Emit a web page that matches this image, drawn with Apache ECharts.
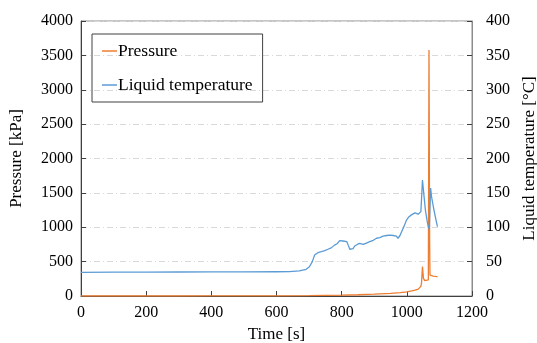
<!DOCTYPE html>
<html>
<head>
<meta charset="utf-8">
<script src="https://cdn.jsdelivr.net/npm/echarts@6/dist/echarts.min.js"></script>
<style>html,body{margin:0;padding:0;background:#fff;overflow:hidden;width:100%;height:100%}#c{position:absolute;left:0;top:0;width:537px;height:343px}</style>
</head>
<body>
<div id="c"></div>
<script>
var tempTime = [0,100,200,300,400,500,600,640,670,691,701,710,717,727,738,748,758,768,778,786,794,799,804,809,816,820,825,830,835,840,848,855,866,876,886,897,907,917,927,938,948,958,968,973,979,984,992,999,1006,1014,1020,1025,1030,1035,1040,1043,1045,1048,1052,1057,1062,1066,1069,1073,1076,1082,1088,1094];
var tempVal = [34.5,34.6,34.8,34.9,35.0,35.1,35.3,35.4,36.4,38.8,42.6,50,59.6,63,64.5,66,68,70,74,76,80.5,79,80,80.5,79,74,68,66,69,72.7,75,76.6,75,77,79,81,84,85,87,88,88.7,88,87,84,88,93.5,102,110.5,115,118,120,121,120,119,120,122.7,140,168.7,149,125,110,100,97,157,144,128,114,101];

var presTime = [0,100,200,300,400,500,600,700,750,800,850,900,950,980,1000,1015,1025,1035,1040,1043,1045,1048,1051,1055,1060,1066,1068,1070,1071,1076,1081,1088,1094];
var presVal = [0,0,0,0,1,2,3,5,8,12,18,26,38,48,60,75,87,100,112,140,185,427,257,223,228,233,3578,800,305,298,290,284,280];

function pairs(t, v) { return t.map(function (x, i) { return [x, v[i]]; }); }

var xTicks = [0, 1200, 200];
var font = 'Liberation Serif';
var dashDot = [6, 3, 1, 3];
var plain = function (v) { return String(v); };

var chart = echarts.init(document.getElementById('c'), null, { width: 537, height: 343 });
chart.setOption({
  animation: false,
  textStyle: { fontFamily: font, color: '#000' },
  grid: { left: 81, right: 65, top: 21, bottom: 47, show: true, borderColor: '#8c8c8c', borderWidth: 1, containLabel: false, outerBoundsMode: 'none' },
  legend: {
    orient: 'vertical', left: 92, top: 34,
    padding: [8, 10, 8, 10], itemGap: 16,
    borderColor: '#404040', borderWidth: 1,
    itemWidth: 15, itemHeight: 1.5,
    icon: 'rect',
    textStyle: { fontFamily: font, fontSize: 17.5, color: '#000', padding: [0, 0, 0, -4] },
    data: ['Pressure', 'Liquid temperature']
  },
  xAxis: {
    type: 'value', min: xTicks[0], max: xTicks[1], interval: xTicks[2],
    name: 'Time [s]', nameLocation: 'middle', nameGap: 29,
    nameTextStyle: { fontFamily: font, fontSize: 17, color: '#000' },
    axisLine: { lineStyle: { color: '#404040', width: 1 } },
    axisTick: { inside: true, length: 5, lineStyle: { color: '#404040' } },
    axisLabel: { fontFamily: font, fontSize: 16, color: '#000', margin: 9, formatter: plain },
    splitLine: { show: false }
  },
  yAxis: [{
    type: 'value', min: 0, max: 4000, interval: 500,
    name: 'Pressure [kPa]', nameLocation: 'middle', nameGap: 56, nameRotate: 90,
    nameTextStyle: { fontFamily: font, fontSize: 17, color: '#000' },
    axisLine: { show: true, lineStyle: { color: '#404040', width: 1 } },
    axisTick: { show: true, inside: true, length: 5, lineStyle: { color: '#404040' } },
    axisLabel: { fontFamily: font, fontSize: 16, color: '#000', margin: 8, formatter: plain },
    splitLine: { show: true, lineStyle: { color: '#d9d9d9', type: dashDot, width: 1 } }
  }, {
    type: 'value', min: 0, max: 400, interval: 50, position: 'right',
    name: 'Liquid temperature [\u00B0C]', nameLocation: 'middle', nameGap: 48, nameRotate: 90,
    nameTextStyle: { fontFamily: font, fontSize: 17, color: '#000' },
    axisLine: { show: true, lineStyle: { color: '#8c8c8c', width: 1 } },
    axisTick: { show: true, inside: true, length: 5, lineStyle: { color: '#404040' } },
    axisLabel: { fontFamily: font, fontSize: 16, color: '#000', margin: 14, formatter: plain },
    splitLine: { show: false }
  }],
  series: [{
    name: 'Pressure', type: 'line', yAxisIndex: 0, showSymbol: false, symbol: 'none',
    data: pairs(presTime, presVal),
    lineStyle: { color: '#ED7D31', width: 1.3 }, itemStyle: { color: '#ED7D31' }
  }, {
    name: 'Liquid temperature', type: 'line', yAxisIndex: 1, showSymbol: false, symbol: 'none',
    data: pairs(tempTime, tempVal),
    lineStyle: { color: '#5B9BD5', width: 1.3 }, itemStyle: { color: '#5B9BD5' }
  }]
});
</script>
</body>
</html>
